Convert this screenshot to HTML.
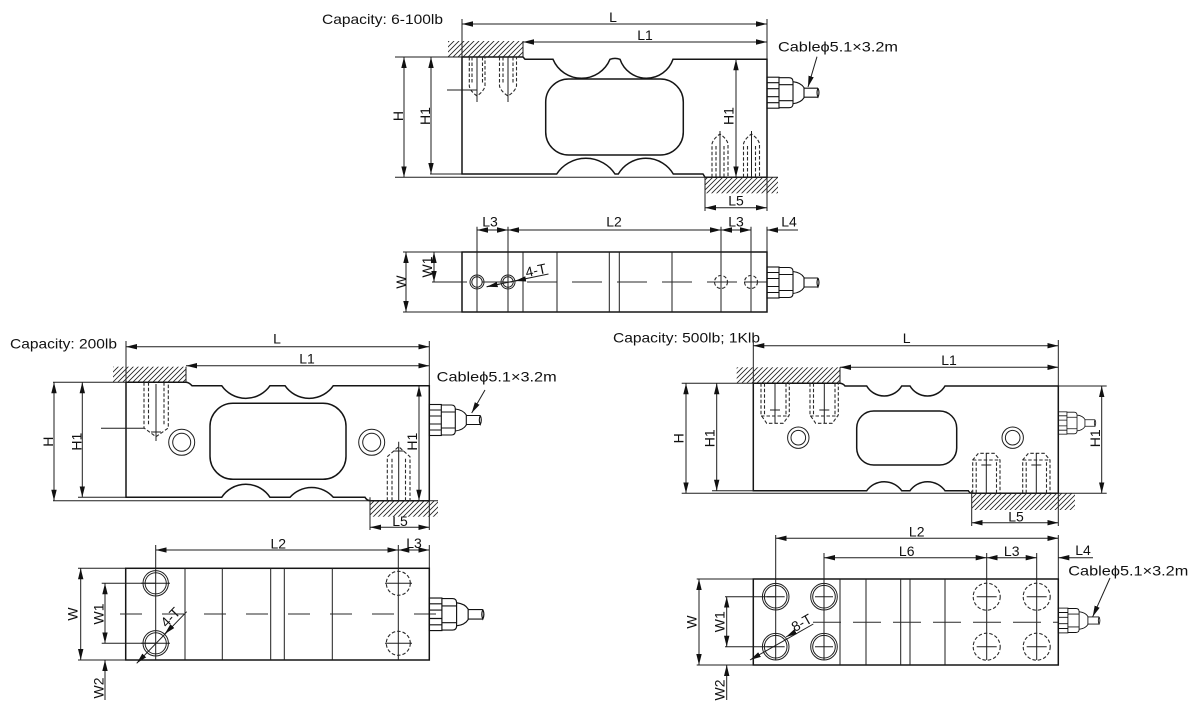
<!DOCTYPE html>
<html><head><meta charset="utf-8"><style>
html,body{margin:0;padding:0;background:#fff;width:1200px;height:714px;overflow:hidden}
svg{display:block}
.b{fill:none;stroke:#151515;stroke-width:1.5}
.t{fill:none;stroke:#1e1e1e;stroke-width:1}
.d{fill:none;stroke:#1e1e1e;stroke-width:1;marker-start:url(#ar);marker-end:url(#ar)}
.e{fill:none;stroke:#1e1e1e;stroke-width:1;marker-end:url(#ar)}
.s{fill:none;stroke:#1e1e1e;stroke-width:1;marker-start:url(#ar)}
.h{fill:none;stroke:#2a2a2a;stroke-width:1.1;stroke-dasharray:3.5 2}
.c{fill:none;stroke:#2a2a2a;stroke-width:1}
text{font-family:"Liberation Sans",Arial,"DejaVu Sans",sans-serif;fill:#111;font-size:14px}
.m{text-anchor:middle}
</style></head><body>
<svg width="1200" height="714" viewBox="0 0 1200 714" xmlns="http://www.w3.org/2000/svg">
<defs>
<marker id="ar" viewBox="0 0 11 6" refX="11" refY="3" markerWidth="11" markerHeight="6" markerUnits="userSpaceOnUse" orient="auto-start-reverse"><path d="M0,0.3L11,3L0,5.7z" fill="#111"/></marker>
<pattern id="hp" width="5" height="5" patternUnits="userSpaceOnUse"><path d="M-1,1L1,-1M0,5L5,0M4,6L6,4" stroke="#222" stroke-width="0.85"/></pattern>
<g id="gl" fill="none" stroke="#111" stroke-width="1.1">
<rect x="0" y="-15.5" width="12" height="31"/>
<path d="M0,-10H12M0,-4H12M0,4H12M0,10H12"/>
<path d="M12,-15H22Q26,-15 26,-11V11Q26,15 22,15H12"/>
<path d="M12,-8H26M12,8H26"/>
<path d="M26,-11Q34,-10 37,-5V5Q34,10 26,11"/>
<path d="M37,-4.5H51M37,4.5H51M51,-4.5Q49,0 51,4.5Q53,0 51,-4.5"/>
</g>
</defs>
<rect width="1200" height="714" fill="#fff"/>

<!-- ===================== A : top side view ===================== -->
<text x="322" y="24" textLength="121" lengthAdjust="spacingAndGlyphs">Capacity: 6-100lb</text>
<rect x="448" y="41" width="75" height="16" fill="url(#hp)"/>
<line class="t" x1="523" y1="41" x2="523" y2="57"/>
<rect x="705" y="177.3" width="73" height="16" fill="url(#hp)"/>
<path class="b" d="M462,57H523L525,59.3H553A30.9,30.9 0 0 0 610,59.3Q615,57.5 620,59.3A28,28 0 0 0 673,59.3H767V177.3H705L703,174H673.3A31.9,31.9 0 0 0 618.3,174H615A34.9,34.9 0 0 0 556.7,174H462Z"/>
<rect class="b" x="545.7" y="79" width="137.6" height="76" rx="23"/>
<path class="t" d="M462,19V57M767,19V59M395,57H462M430,174H462M395,177.3H778M705,177.3V211M767,177.3V211"/>
<line class="d" x1="462" y1="24" x2="767" y2="24"/>
<line class="d" x1="523" y1="42" x2="767" y2="42"/>
<line class="d" x1="404" y1="57" x2="404" y2="177.3"/>
<line class="d" x1="431" y1="57" x2="431" y2="174"/>
<line class="d" x1="736" y1="59.3" x2="736" y2="177.3"/>
<line class="d" x1="705" y1="207.7" x2="767" y2="207.7"/>
<text class="m" x="613" y="22">L</text>
<text class="m" x="645" y="40">L1</text>
<text class="m" x="736" y="205.5">L5</text>
<text class="m" transform="translate(398,116) rotate(-90)" y="5">H</text>
<text class="m" transform="translate(425,116) rotate(-90)" y="5">H1</text>
<text class="m" transform="translate(728.5,116) rotate(-90)" y="5">H1</text>
<!-- bolts top-left -->
<path class="h" d="M469.3,57V86Q470,91 477,96Q484,91 485,86V57"/>
<path class="h" d="M472,57V84M482.5,57V84"/>
<line class="t" x1="477" y1="57" x2="477" y2="102"/>
<path class="h" d="M499.5,57V86Q500.5,91 508,96Q515.5,91 516.5,86V57"/>
<path class="h" d="M503,57V84M513,57V84"/>
<line class="t" x1="508" y1="57" x2="508" y2="102"/>
<line class="t" x1="447" y1="90" x2="477" y2="90"/>
<!-- bolts bottom-right -->
<path class="h" d="M712,177.3V144Q713,139 720,134Q727,139 728,144V177.3"/>
<path class="h" d="M716,177V146M724,177V146"/>
<line class="t" x1="720" y1="131" x2="720" y2="177"/>
<path class="h" d="M743.5,177.3V144Q744.5,139 751.5,134Q758.5,139 759.5,144V177.3"/>
<path class="h" d="M747.5,177V146M755.5,177V146"/>
<line class="t" x1="751.5" y1="131" x2="751.5" y2="177"/>
<use href="#gl" transform="translate(767,92.7)"/>
<text x="778" y="51.5" font-size="15" textLength="120" lengthAdjust="spacingAndGlyphs">Cableϕ5.1×3.2m</text>
<line class="e" x1="817" y1="56.7" x2="808" y2="87"/>

<!-- ===================== A : top plan view ===================== -->
<rect class="b" x="462" y="252" width="305" height="60"/>
<path class="t" d="M523,252V312M557,252V312M609.3,252V312M619.3,252V312M672,252V312"/>
<path class="t" d="M477,226.7V312M508,226.7V312M721,226.7V312M751,226.7V312M767,226.7V252M403,252H462M403,312H462M432,282H462"/>
<line class="d" x1="477" y1="230" x2="508" y2="230"/>
<line class="d" x1="508" y1="230" x2="721" y2="230"/>
<line class="d" x1="721" y1="230" x2="751" y2="230"/>
<line class="e" x1="798" y1="230" x2="767" y2="230"/>
<text class="m" x="490" y="226.5">L3</text>
<text class="m" x="614" y="226.5">L2</text>
<text class="m" x="736" y="226.5">L3</text>
<text class="m" x="789" y="226.5">L4</text>
<circle class="t" cx="477" cy="282" r="7"/><circle class="t" cx="477" cy="282" r="5.2"/>
<circle class="t" cx="508" cy="282" r="7"/><circle class="t" cx="508" cy="282" r="5.2"/>
<circle class="h" cx="721" cy="282" r="6.5"/><circle class="h" cx="751" cy="282" r="6.5"/>
<path class="t" d="M714,282H728M744,282H758"/>
<line class="c" x1="462" y1="282" x2="767" y2="282" stroke-dasharray="30 15" stroke-dashoffset="25"/>
<line class="d" x1="406" y1="252" x2="406" y2="312"/>
<line class="d" x1="434" y1="252" x2="434" y2="282"/>
<text class="m" transform="translate(401,282) rotate(-90)" y="5">W</text>
<text class="m" transform="translate(427,267) rotate(-90)" y="5">W1</text>
<line class="t" x1="486.7" y1="286.7" x2="548.5" y2="274"/>
<line class="e" x1="500" y1="284" x2="486.7" y2="286.7"/>
<line class="e" x1="525" y1="279" x2="515" y2="281"/>
<text class="m" transform="translate(537,276) rotate(-12)" y="-1">4-T</text>
<use href="#gl" transform="translate(767,282.5)"/>

<!-- ===================== B : bottom-left side view ===================== -->
<text x="10" y="348.5" textLength="107" lengthAdjust="spacingAndGlyphs">Capacity: 200lb</text>
<rect x="113" y="366.7" width="73" height="15.6" fill="url(#hp)"/>
<line class="t" x1="186" y1="366.7" x2="186" y2="382.3"/>
<rect x="370" y="500.7" width="68" height="16" fill="url(#hp)"/>
<path class="b" d="M126,382.3H186Q189,382.5 192,385.7H221.7A29.4,29.4 0 0 0 270,385.7H285A29.4,29.4 0 0 0 333.3,385.7H429.3V500.7H370Q367,500.5 365,497.3H333.3A28.9,28.9 0 0 0 290,497.3H270A28.9,28.9 0 0 0 221.7,497.3H126Z"/>
<rect class="b" x="210" y="403.3" width="136" height="76" rx="23"/>
<path class="t" d="M126,341V382.3M429.3,341V385.7M53,382.3H126M78,497.3H126M53,500.7H438M370,497.3V530M429.3,500.7V530"/>
<line class="d" x1="126" y1="346.7" x2="429.3" y2="346.7"/>
<line class="d" x1="186" y1="365.7" x2="429.3" y2="365.7"/>
<line class="d" x1="54" y1="382.3" x2="54" y2="500.7"/>
<line class="d" x1="82.3" y1="382.3" x2="82.3" y2="497.3"/>
<line class="d" x1="419" y1="385.7" x2="419" y2="500.7"/>
<line class="d" x1="370" y1="527.3" x2="429.3" y2="527.3"/>
<text class="m" x="277" y="343.5">L</text>
<text class="m" x="307" y="363.5">L1</text>
<text class="m" x="400" y="526">L5</text>
<text class="m" transform="translate(48,441.7) rotate(-90)" y="5">H</text>
<text class="m" transform="translate(76.7,441.7) rotate(-90)" y="5">H1</text>
<text class="m" transform="translate(412,441.7) rotate(-90)" y="5">H1</text>
<circle class="t" cx="181.7" cy="442.3" r="13"/><circle class="t" cx="181.7" cy="442.3" r="9"/>
<circle class="t" cx="371.7" cy="442.3" r="13"/><circle class="t" cx="371.7" cy="442.3" r="9"/>
<path class="h" d="M144,382.3V428L156,436.7L168.3,428V382.3"/>
<path class="h" d="M148.5,382.3V426M164,382.3V426"/>
<path class="t" d="M156,384V441M151,432H161M101,428.3H144"/>
<path class="h" d="M387.3,500.7V456.7L398.7,446.7L410,456.7V500.7"/>
<path class="h" d="M392,500.7V458M405.5,500.7V458"/>
<path class="t" d="M398.7,441.7V500.7M393.7,451H403.7"/>
<use href="#gl" transform="translate(429.3,420)"/>
<text x="436.7" y="381.5" font-size="15" textLength="120" lengthAdjust="spacingAndGlyphs">Cableϕ5.1×3.2m</text>
<line class="e" x1="485" y1="390" x2="471.7" y2="413"/>

<!-- ===================== B : bottom-left plan view ===================== -->
<rect class="b" x="125.7" y="568.3" width="303.6" height="91.7"/>
<path class="t" d="M185,568.3V660M222.3,568.3V660M270.7,568.3V660M284.3,568.3V660M332.3,568.3V660"/>
<path class="t" d="M155.7,545V660M398.3,545V660M429.3,545V568.3M78,568.3H125.7M101.7,583.3H155.7M101.7,643.3H155.7M78,660H125.7"/>
<line class="d" x1="155.7" y1="550" x2="398.3" y2="550"/>
<line class="d" x1="398.3" y1="550" x2="429.3" y2="550"/>
<text class="m" x="278.3" y="548.5">L2</text>
<text class="m" x="414" y="548">L3</text>
<circle class="t" cx="155.7" cy="583.3" r="12.7"/><circle class="t" cx="155.7" cy="583.3" r="10.6"/>
<circle class="t" cx="155.7" cy="643.3" r="12.7"/><circle class="t" cx="155.7" cy="643.3" r="10.6"/>
<circle class="h" cx="398.3" cy="583.3" r="12"/><circle class="h" cx="398.3" cy="643.3" r="12"/>
<path class="t" d="M141,583.3H170M141,643.3H170M385,583.3H412M385,643.3H412"/>
<line class="c" x1="120" y1="614" x2="440" y2="614" stroke-dasharray="22 20"/>
<line class="d" x1="80.7" y1="568.3" x2="80.7" y2="660"/>
<line class="d" x1="105" y1="583.3" x2="105" y2="643.3"/>
<line class="s" x1="105" y1="660" x2="105" y2="700"/>
<text class="m" transform="translate(72.3,614) rotate(-90)" y="5">W</text>
<text class="m" transform="translate(98.3,614) rotate(-90)" y="5">W1</text>
<text class="m" transform="translate(98.3,688) rotate(-90)" y="5">W2</text>
<line class="s" x1="136.7" y1="663.3" x2="186.7" y2="611.7"/>
<line class="e" x1="172" y1="626.5" x2="164.7" y2="634"/>
<text class="m" transform="translate(176,622.7) rotate(-46)" y="-3">4-T</text>
<use href="#gl" transform="translate(429.3,614.3) scale(1.05)"/>

<!-- ===================== C : bottom-right side view ===================== -->
<text x="613" y="342.5" textLength="147" lengthAdjust="spacingAndGlyphs">Capacity: 500lb; 1Klb</text>
<rect x="736.7" y="367.3" width="103.3" height="16" fill="url(#hp)"/>
<line class="t" x1="840" y1="367.3" x2="840" y2="383.3"/>
<rect x="971.7" y="493.3" width="103.3" height="16.7" fill="url(#hp)"/>
<path class="b" d="M753.3,383.3H840Q843,383.5 845,386H866.7A20.3,20.3 0 0 0 901.7,386H910A20.3,20.3 0 0 0 945,386H1058.3V493.3H971.7Q969.5,493 968.3,490.7H945A21.5,21.5 0 0 0 910,490.7H901.7A21.5,21.5 0 0 0 866.7,490.7H753.3Z"/>
<rect class="b" x="856.7" y="411" width="100" height="54" rx="17"/>
<path class="t" d="M753.3,340V383.3M1058.3,340V386M681.7,383.3H753.3M712,490.7H753.3M681.7,493.3H1106.7M1058.3,386H1106.7M971.7,490.7V526M1058.3,493.3V526"/>
<line class="d" x1="753.3" y1="345.7" x2="1058.3" y2="345.7"/>
<line class="d" x1="840" y1="367.3" x2="1058.3" y2="367.3"/>
<line class="d" x1="686" y1="383.3" x2="686" y2="493.3"/>
<line class="d" x1="716.7" y1="383.3" x2="716.7" y2="490.7"/>
<line class="d" x1="1101.7" y1="386" x2="1101.7" y2="493.3"/>
<line class="d" x1="971.7" y1="522.7" x2="1058.3" y2="522.7"/>
<text class="m" x="906.7" y="343">L</text>
<text class="m" x="949" y="365">L1</text>
<text class="m" x="1016" y="521.5">L5</text>
<text class="m" transform="translate(678.3,438.3) rotate(-90)" y="5">H</text>
<text class="m" transform="translate(709.3,438.3) rotate(-90)" y="5">H1</text>
<text class="m" transform="translate(1095,438.3) rotate(-90)" y="5">H1</text>
<circle class="t" cx="798.3" cy="437.7" r="10.7"/><circle class="t" cx="798.3" cy="437.7" r="7.3"/>
<circle class="t" cx="1012.7" cy="437.7" r="10.7"/><circle class="t" cx="1012.7" cy="437.7" r="7.3"/>
<path class="h" d="M761,383.3V415L766.7,423.3H783.3L789.3,415V383.3M764.5,383.3V415M786,383.3V415M761,416H789.3"/>
<path class="t" d="M775,384V423M770,410H780"/>
<path class="h" d="M810,383.3V415L815.7,423.3H832.3L838.3,415V383.3M813.5,383.3V415M835,383.3V415M810,416H838.3"/>
<path class="t" d="M824.3,384V423M819.3,410H829.3"/>
<path class="h" d="M972.7,493.3V460L978.4,453.3H994.3L1000,460V493.3M976.2,493.3V460M996.5,493.3V460M972.7,460H1000"/>
<path class="t" d="M986.3,453V493M981.3,465H991.3"/>
<path class="h" d="M1022.7,493.3V460L1028.4,453.3H1044.3L1050,460V493.3M1026.2,493.3V460M1046.5,493.3V460M1022.7,460H1050"/>
<path class="t" d="M1036.3,453V493M1031.3,465H1041.3"/>
<use href="#gl" transform="translate(1058.3,423) scale(0.72)"/>

<!-- ===================== C : bottom-right plan view ===================== -->
<rect class="b" x="753.3" y="579" width="305" height="86"/>
<path class="t" d="M840,579V665M866,579V665M900.7,579V665M910,579V665M945,579V665"/>
<path class="t" d="M775.7,535V660M824,553V660M986.7,553V660M1036.7,553V660M1058.3,535V579M696.7,579H753.3M725,596.7H775.7M725,646.7H775.7M696.7,665H753.3"/>
<line class="d" x1="775.7" y1="538.3" x2="1058.3" y2="538.3"/>
<line class="d" x1="824" y1="557.7" x2="986.7" y2="557.7"/>
<line class="d" x1="986.7" y1="557.7" x2="1036.7" y2="557.7"/>
<line class="e" x1="1093" y1="557.7" x2="1058.3" y2="557.7"/>
<text class="m" x="916.7" y="536.5">L2</text>
<text class="m" x="906.7" y="556">L6</text>
<text class="m" x="1011.7" y="556">L3</text>
<text class="m" x="1083" y="555">L4</text>
<circle class="t" cx="775.7" cy="596.7" r="13.3"/><circle class="t" cx="775.7" cy="596.7" r="11.3"/>
<circle class="t" cx="824" cy="596.7" r="13.3"/><circle class="t" cx="824" cy="596.7" r="11.3"/>
<circle class="t" cx="775.7" cy="646.7" r="13.3"/><circle class="t" cx="775.7" cy="646.7" r="11.3"/>
<circle class="t" cx="824" cy="646.7" r="13.3"/><circle class="t" cx="824" cy="646.7" r="11.3"/>
<circle class="h" cx="986.7" cy="596.7" r="13.5"/><circle class="h" cx="1036.7" cy="596.7" r="13.5"/>
<circle class="h" cx="986.7" cy="646.7" r="13.5"/><circle class="h" cx="1036.7" cy="646.7" r="13.5"/>
<path class="t" d="M766.7,596.7H784.7M815,596.7H833M766.7,646.7H784.7M815,646.7H833M976.7,596.7H996.7M1026.7,596.7H1046.7M976.7,646.7H996.7M1026.7,646.7H1046.7"/>
<line class="c" x1="813" y1="622.3" x2="1058" y2="622.3" stroke-dasharray="28 12"/>
<line class="d" x1="699" y1="579" x2="699" y2="665"/>
<line class="d" x1="726.7" y1="596.7" x2="726.7" y2="646.7"/>
<line class="s" x1="726.7" y1="665" x2="726.7" y2="700"/>
<text class="m" transform="translate(691.7,622) rotate(-90)" y="5">W</text>
<text class="m" transform="translate(719.3,621.7) rotate(-90)" y="5">W1</text>
<text class="m" transform="translate(719.3,690) rotate(-90)" y="5">W2</text>
<line class="s" x1="750" y1="660" x2="813.3" y2="624"/>
<line class="e" x1="795" y1="632" x2="786" y2="637"/>
<text class="m" transform="translate(805,628.7) rotate(-29.6)" y="-2">8-T</text>
<use href="#gl" transform="translate(1058.3,620.5) scale(0.8)"/>
<text x="1068.3" y="575.5" font-size="15" textLength="120" lengthAdjust="spacingAndGlyphs">Cableϕ5.1×3.2m</text>
<line class="e" x1="1110" y1="578" x2="1092.7" y2="616.7"/>
</svg>
</body></html>
